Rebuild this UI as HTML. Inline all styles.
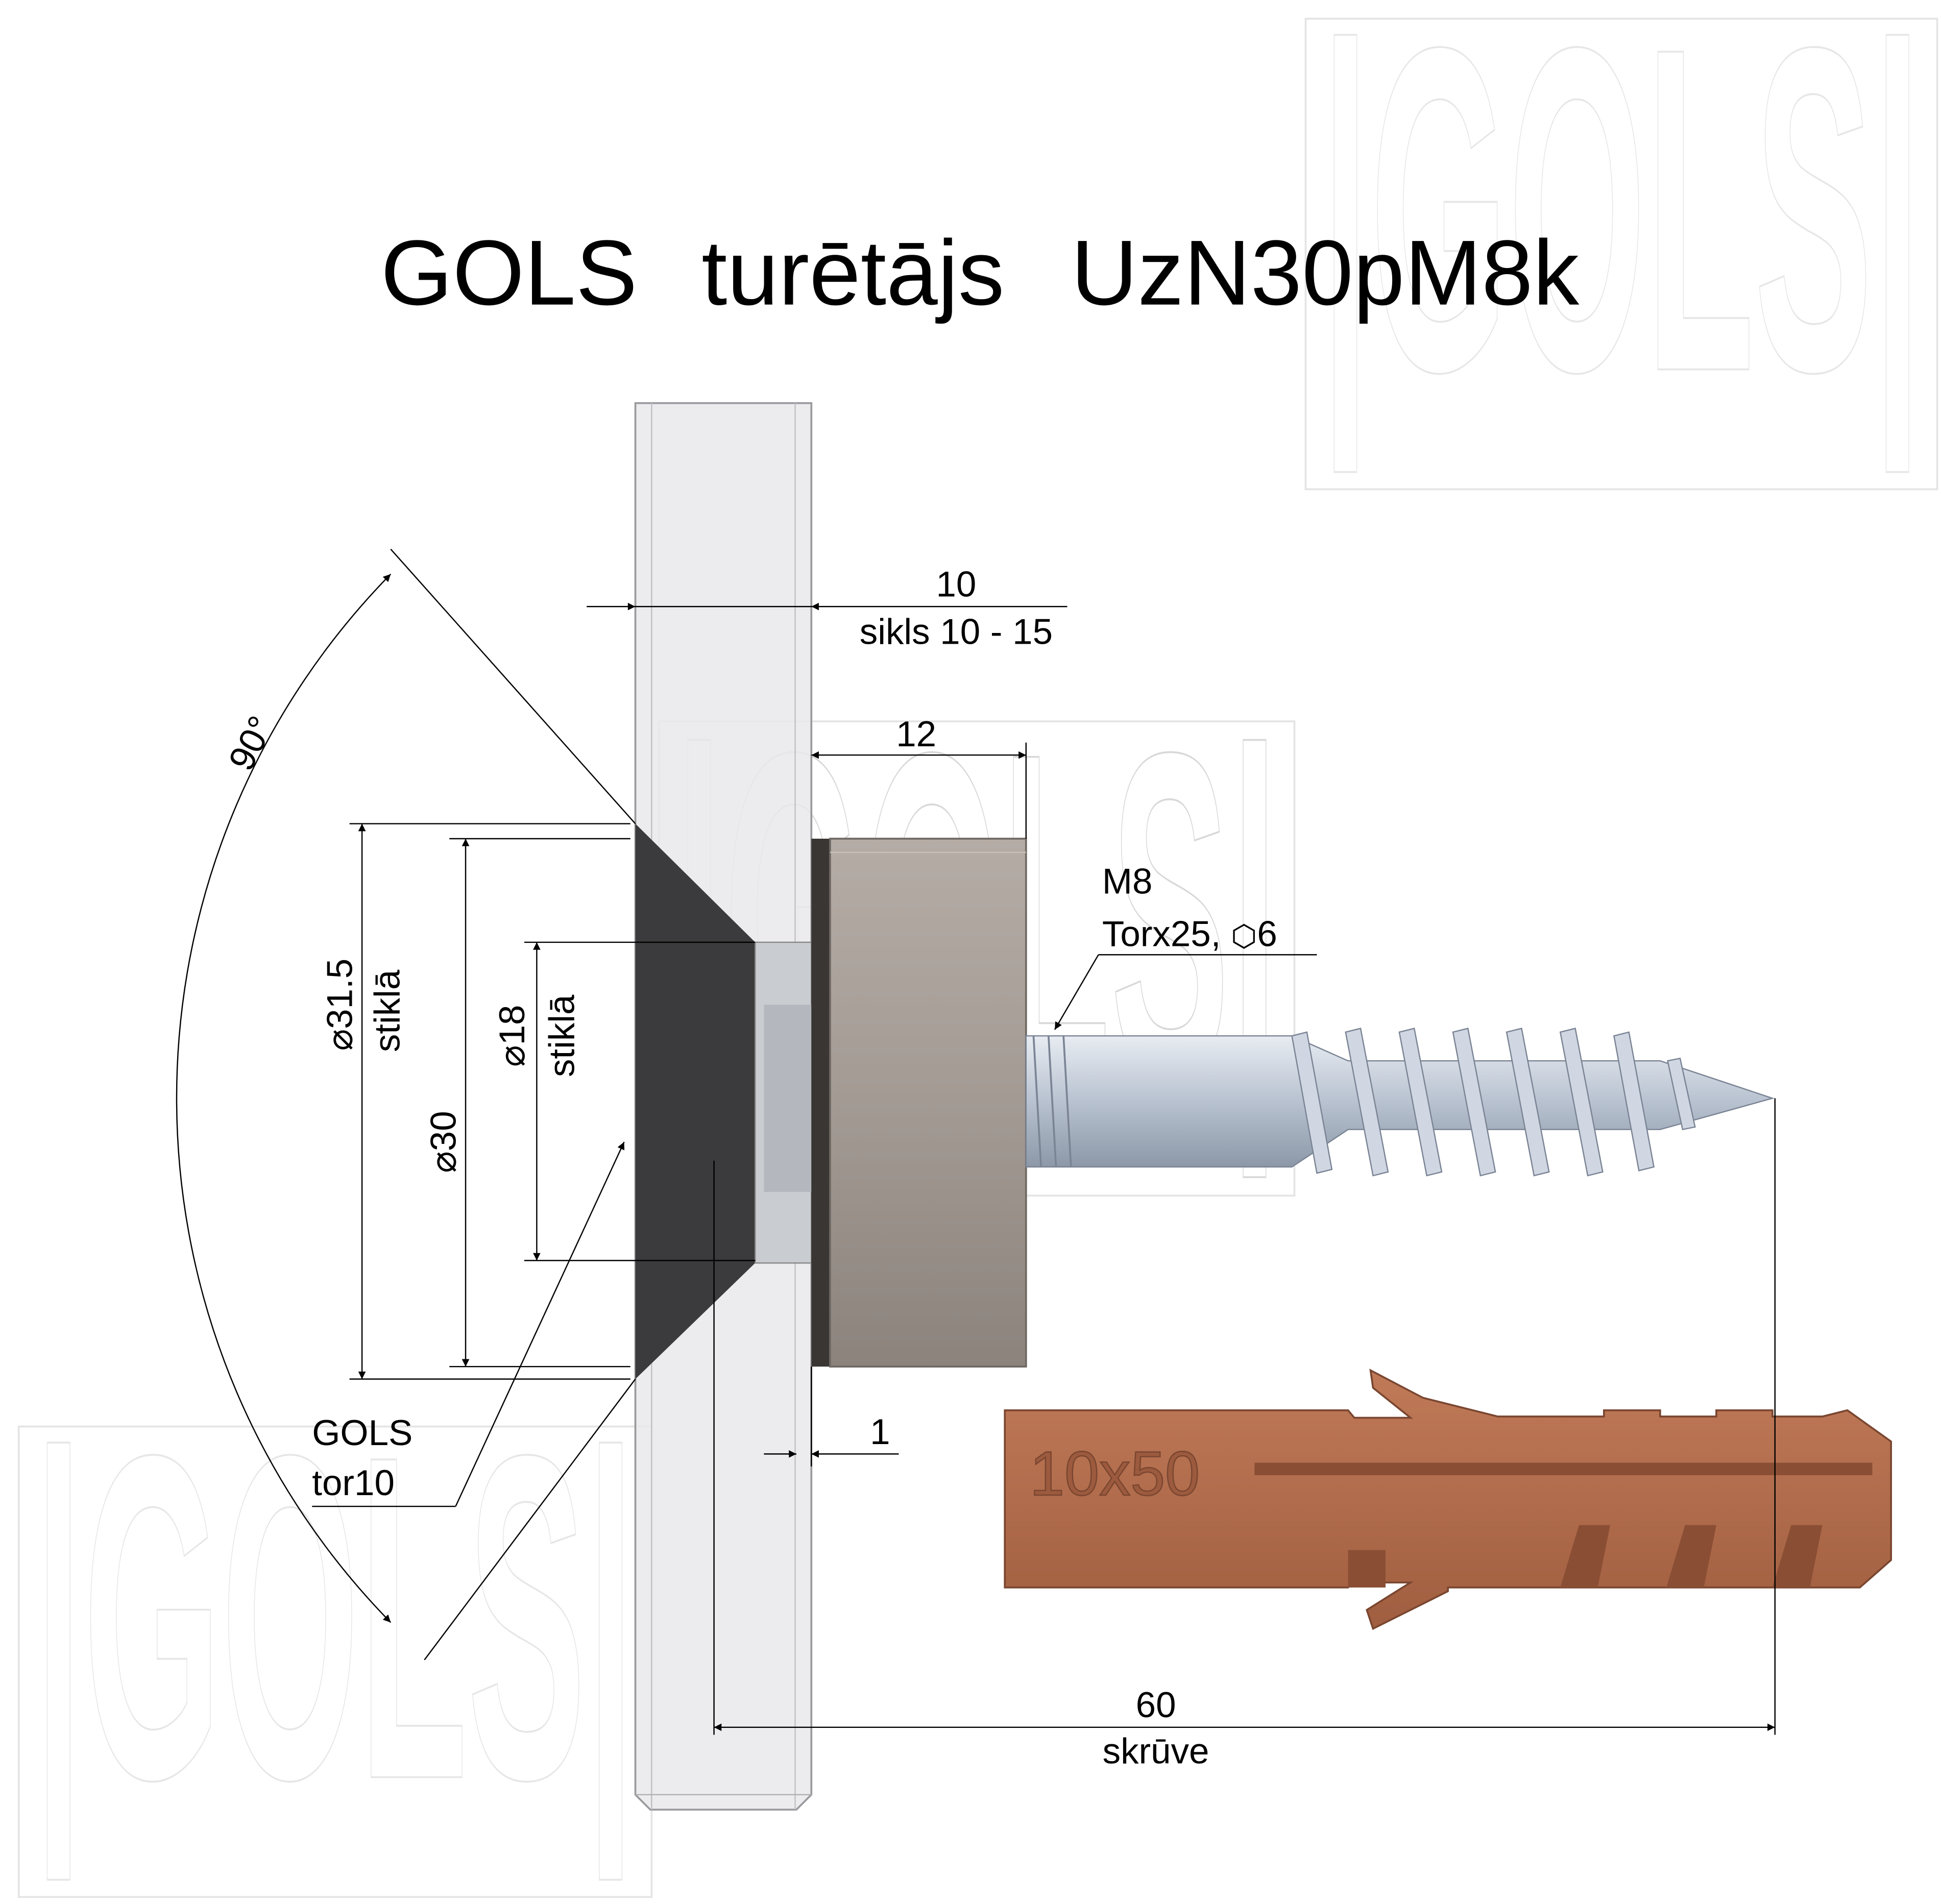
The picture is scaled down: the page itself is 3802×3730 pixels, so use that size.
<!DOCTYPE html>
<html><head><meta charset="utf-8"><style>html,body{margin:0;padding:0;background:#fff;overflow:hidden}svg{display:block}</style></head>
<body>
<svg width="3802" height="3730" viewBox="0 0 1555 1525.6" xmlns="http://www.w3.org/2000/svg" font-family="Liberation Sans, sans-serif">
<defs>
<linearGradient id="cap" x1="0" y1="0" x2="0" y2="1"><stop offset="0" stop-color="#b5aca6"/><stop offset="0.5" stop-color="#a39a94"/><stop offset="1" stop-color="#8c837d"/></linearGradient>
<linearGradient id="scr" x1="0" y1="0" x2="0" y2="1"><stop offset="0" stop-color="#e8ecf2"/><stop offset="0.5" stop-color="#b8c2d0"/><stop offset="1" stop-color="#8c98a8"/></linearGradient>
<linearGradient id="dow" x1="0" y1="0" x2="0" y2="1"><stop offset="0" stop-color="#c07a58"/><stop offset="1" stop-color="#a05e40"/></linearGradient>
<marker id="a" viewBox="0 0 10 10" refX="10" refY="5" markerWidth="14" markerHeight="6" orient="auto-start-reverse" markerUnits="userSpaceOnUse"><path d="M0,0L10,5L0,10z" fill="#000"/></marker>
</defs>
<!-- watermarks -->
<g fill="none" stroke="#e4e4e4" stroke-width="1.5">
<rect x="1046" y="15" width="506" height="377"/>
<rect x="15" y="1143" width="507" height="377"/>
<rect x="528" y="578" width="509" height="380"/>
</g>
<g fill="none" stroke="#e6e6e6" stroke-width="1.5" font-weight="bold">
<text x="1058" y="296" font-size="370" textLength="482" lengthAdjust="spacingAndGlyphs">|GOLS|</text>
<text x="27" y="1424" font-size="370" textLength="482" lengthAdjust="spacingAndGlyphs">|GOLS|</text>
<text x="540" y="861" font-size="370" textLength="485" lengthAdjust="spacingAndGlyphs" stroke="#d8d8d8">|GOLS|</text>
</g>
<!-- title -->
<g font-size="74" fill="#000">
<text x="305" y="244">GOLS</text>
<text x="562" y="244">turētājs</text>
<text x="858" y="244">UzN30pM8k</text>
</g>
<!-- glass -->
<path d="M509,323 H650 V1438 L638,1450 H521 L509,1438 Z" fill="#e9e9ec" fill-opacity="0.85" stroke="#9a9a9e" stroke-width="1.5"/>
<line x1="522" y1="323" x2="522" y2="1450" stroke="#c0c0c4"/>
<line x1="637" y1="323" x2="637" y2="1450" stroke="#c0c0c4"/>
<line x1="509" y1="1438" x2="650" y2="1438" stroke="#b0b0b4"/>
<!-- cone -->
<path d="M509,660 L605,755 V1012 L509,1105 Z" fill="#3b3b3d"/>
<rect x="605" y="755" width="45" height="257" fill="#c9cdd2" stroke="#888" stroke-width="1"/>
<rect x="612" y="805" width="38" height="150" fill="#b4b8be"/>
<!-- cap -->
<rect x="650" y="672" width="16" height="423" fill="#3a3634"/>
<rect x="665" y="672" width="157" height="423" fill="url(#cap)" stroke="#6f6863" stroke-width="1.5"/>
<line x1="665" y1="683" x2="822" y2="683" stroke="#c8c1bb"/>
<!-- screw -->
<path d="M822,830 H1035 L1080,850 H1330 L1420,880 L1330,905 H1080 L1035,935 H822 Z" fill="url(#scr)" stroke="#7a8494" stroke-width="1"/>
<g fill="#d0d7e2" stroke="#7a8494" stroke-width="1">
<path d="M1035,830 l12,-3 l20,110 l-12,3z"/><path d="M1078,827 l12,-3 l22,115 l-12,3z"/><path d="M1121,827 l12,-3 l22,115 l-12,3z"/><path d="M1164,827 l12,-3 l22,115 l-12,3z"/><path d="M1207,827 l12,-3 l22,115 l-12,3z"/><path d="M1250,827 l12,-3 l22,115 l-12,3z"/><path d="M1293,830 l12,-3 l20,108 l-12,3z"/><path d="M1336,850 l10,-2 l12,55 l-10,2z"/>
</g>
<g stroke="#7a8494" stroke-width="1.5"><line x1="828" y1="830" x2="834" y2="935"/><line x1="840" y1="830" x2="846" y2="935"/><line x1="852" y1="830" x2="858" y2="935"/></g>
<!-- dowel -->
<path d="M805,1130 H1080 L1085,1136 H1130 L1100,1112 L1098,1098 L1140,1120 L1200,1135 H1285 V1130 H1330 V1135 H1375 V1130 H1420 V1135 H1460 L1480,1130 L1515,1155 V1250 L1490,1272 H1160 L1160,1275 L1100,1305 L1095,1290 L1130,1268 H1085 L1080,1272 H805 Z" fill="url(#dow)" stroke="#7a4630" stroke-width="1.5"/>
<g fill="#8a4e34"><path d="M1250,1272 l15,-50 h25 l-10,50z"/><path d="M1335,1272 l15,-50 h25 l-10,50z"/><path d="M1420,1272 l15,-50 h25 l-10,50z"/><path d="M1080,1272 v-30 h30 v30z"/></g>
<path d="M1005,1172 H1500 V1182 H1005 Z" fill="#8a4e34"/>
<text x="825" y="1198" font-size="50" fill="#9c5a3e" stroke="#7a4630" stroke-width="1">10x50</text>
<!-- dimension lines -->
<g stroke="#000" stroke-width="1" fill="none">
<line x1="470" y1="486" x2="509" y2="486" marker-end="url(#a)"/>
<line x1="509" y1="486" x2="650" y2="486"/>
<line x1="855" y1="486" x2="650" y2="486" marker-end="url(#a)"/>
<line x1="650" y1="605" x2="822" y2="605" marker-start="url(#a)" marker-end="url(#a)"/>
<line x1="822" y1="595" x2="822" y2="672"/>
<line x1="280" y1="660" x2="505" y2="660"/><line x1="280" y1="1105" x2="505" y2="1105"/>
<line x1="290" y1="660" x2="290" y2="1105" marker-start="url(#a)" marker-end="url(#a)"/>
<line x1="360" y1="672" x2="505" y2="672"/><line x1="360" y1="1095" x2="505" y2="1095"/>
<line x1="373" y1="672" x2="373" y2="1095" marker-start="url(#a)" marker-end="url(#a)"/>
<line x1="420" y1="755" x2="605" y2="755"/><line x1="420" y1="1010" x2="605" y2="1010"/>
<line x1="430" y1="755" x2="430" y2="1010" marker-start="url(#a)" marker-end="url(#a)"/>
<line x1="612" y1="1165" x2="638" y2="1165" marker-end="url(#a)"/>
<line x1="720" y1="1165" x2="650" y2="1165" marker-end="url(#a)"/>
<line x1="650" y1="1095" x2="650" y2="1175"/>
<line x1="572" y1="1384" x2="1422" y2="1384" marker-start="url(#a)" marker-end="url(#a)"/>
<line x1="572" y1="930" x2="572" y2="1390"/><line x1="1422" y1="880" x2="1422" y2="1390"/>
<path d="M313,460 A600,600 0 0 0 313,1300" marker-start="url(#a)" marker-end="url(#a)"/>
<line x1="313" y1="440" x2="509" y2="660"/><line x1="340" y1="1330" x2="509" y2="1105"/>
<line x1="1055" y1="765" x2="880" y2="765"/><line x1="880" y1="765" x2="845" y2="825" marker-end="url(#a)"/>
<line x1="250" y1="1207" x2="365" y2="1207"/><line x1="365" y1="1207" x2="500" y2="915" marker-end="url(#a)"/>
</g>
<!-- labels -->
<g font-size="29" fill="#000">
<text x="766" y="478" text-anchor="middle">10</text>
<text x="766" y="516" text-anchor="middle">sikls 10 - 15</text>
<text x="734" y="598" text-anchor="middle">12</text>
<text x="883" y="716">M8</text>
<text x="883" y="758">Torx25, <tspan font-size="24">⬡</tspan>6</text>
<text x="697" y="1157">1</text>
<text x="926" y="1376" text-anchor="middle">60</text>
<text x="926" y="1413" text-anchor="middle">skrūve</text>
<text x="250" y="1158">GOLS</text>
<text x="250" y="1198">tor10</text>
<text transform="translate(210,600) rotate(-63)" text-anchor="middle">90°</text>
<text transform="translate(282,805) rotate(-90)" text-anchor="middle">⌀31.5</text>
<text transform="translate(320,810) rotate(-90)" text-anchor="middle">stiklā</text>
<text transform="translate(365,915) rotate(-90)" text-anchor="middle">⌀30</text>
<text transform="translate(420,830) rotate(-90)" text-anchor="middle">⌀18</text>
<text transform="translate(460,830) rotate(-90)" text-anchor="middle">stiklā</text>
</g>
</svg>
</body></html>
